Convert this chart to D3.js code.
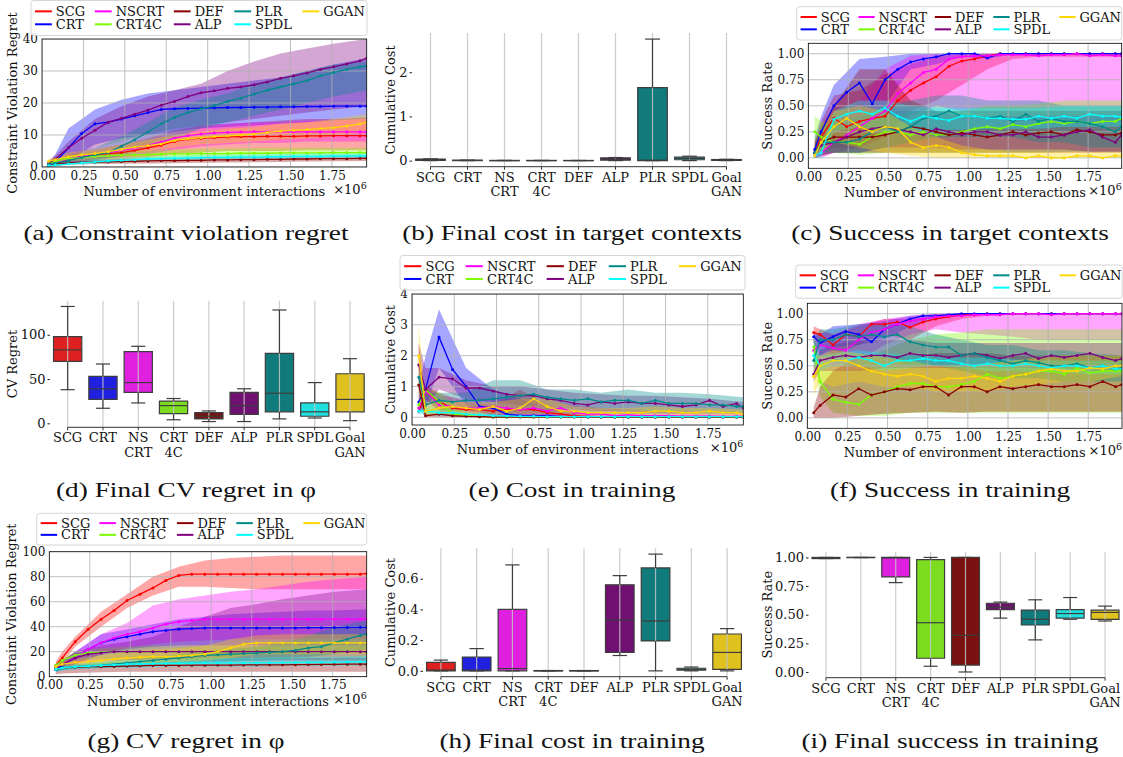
<!DOCTYPE html>
<html>
<head>
<meta charset="UTF-8">
<title>Curriculum results</title>
<script src="https://d3js.org/d3.v7.min.js"></script>
<style>
  body { margin: 0; background: #fff; }
</style>
</head>
<body>
<div id="chart"></div>
<script>
// ---------- data ----------
const methods = ["SCG", "CRT", "NSCRT", "CRT4C", "DEF", "ALP", "PLR", "SPDL", "GGAN"];
const boxLabels = [["SCG"], ["CRT"], ["NS", "CRT"], ["CRT", "4C"], ["DEF"], ["ALP"], ["PLR"], ["SPDL"], ["Goal", "GAN"]];
const colors = {SCG: "#ff0000", CRT: "#0000ff", NSCRT: "#ff00ff", CRT4C: "#7cfc00", DEF: "#8b0000",
                ALP: "#800080", PLR: "#008b8b", SPDL: "#00ffff", GGAN: "#ffd700"};

// x positions (in 1e6 interactions) of the mean curves and of the band edges
const steps = [0.04,0.08,0.16,0.24,0.32,0.40,0.48,0.56,0.64,0.72,0.80,0.88,0.96,1.04,1.12,1.20,1.28,1.36,1.44,1.52,1.60,1.68,1.76,1.84,1.92,1.96];
const bandSteps = [0.04,0.08,0.16,0.32,0.48,0.64,0.80,0.96,1.12,1.28,1.44,1.60,1.76,1.96];
const xTicks = [0, 0.25, 0.5, 0.75, 1.0, 1.25, 1.5, 1.75];

// (a) constraint violation regret, target contexts
const aMean = {
  SCG:   [0.3,1,2.3,3.3,3.8,4.2,4.5,5.2,6,6.8,8,8.7,9,9.2,9.4,9.5,9.5,9.6,9.6,9.6,9.7,9.7,9.8,9.8,9.8,9.8],
  CRT:   [0.5,1.5,6,10.5,13.5,14,15,16,17,18,18.2,18.3,18.4,18.5,18.6,18.6,18.7,18.7,18.8,18.8,18.9,18.9,19,19,19,19],
  NSCRT: [0.4,1.2,2.5,3.4,4,4.5,5.2,5.8,6.8,7.8,9,9.8,10.3,10.6,10.8,10.9,11,11,11,11,11,11,11,11,11,11],
  CRT4C: [1,1.8,2.6,3,3.3,3.5,3.7,3.8,3.9,4,4.1,4.1,4.2,4.2,4.2,4.3,4.3,4.3,4.4,4.4,4.4,4.4,4.5,4.5,4.5,4.5],
  DEF:   [0.4,0.8,1.3,1.5,1.5,1.6,1.7,1.8,1.9,2,2,2.1,2.1,2.2,2.2,2.3,2.3,2.4,2.4,2.5,2.5,2.6,2.6,2.6,2.7,2.7],
  ALP:   [1.2,2.5,6,9,11.5,14,15.2,16.5,17.8,19.3,20.5,22,23.2,23.8,24.6,25,25.7,26.6,27.7,28.5,29.4,30.5,31.3,32.2,33.2,34],
  PLR:   [0.8,1.2,2,3,3.8,4.5,6.5,8.5,11,13.5,15.5,17,18.2,19.2,20.5,21.5,22.8,24,25,26,27,28.5,29.5,30.5,31.3,31.6],
  SPDL:  [0.4,0.6,1,1.3,1.6,1.9,2.1,2.3,2.5,2.6,2.7,2.8,2.9,3,3,3.1,3.1,3.2,3.2,3.3,3.3,3.3,3.4,3.4,3.5,3.5],
  GGAN:  [1.8,2.3,3.2,3.8,4.2,4.8,5.5,6.2,6.7,7.2,8.3,8.8,9.2,9.5,9.7,10,10.3,10.8,11.2,11.5,11.7,12,12.3,12.8,13.5,14]
};
const aLo = {
  SCG: [0.1,0.3,1,1.8,2.2,3,4,4.5,5,5,5,5.2,5.2,5.2], CRT: [0.2,0.5,2,7,9,10,11,12,12.5,13,13.5,14,14.5,15],
  NSCRT: [0.2,0.5,1,2.5,3,4,5.5,6.5,7,7.5,7.5,8,8,8], CRT4C: [0.6,1.1,1.8,2.2,2.5,2.7,2.8,2.9,3,3,3.1,3.1,3.2,3.2],
  DEF: [0.1,0.3,0.7,0.9,1,1.1,1.2,1.3,1.4,1.5,1.6,1.7,1.8,1.9], ALP: [0.5,1,3,6,8,10,12,13,14,15,16,17,18,19],
  PLR: [0.5,0.8,1,2,3.5,6,9,12,14,16,18,20,22,24], SPDL: [0.2,0.3,0.6,1,1.4,1.8,2,2.1,2.2,2.3,2.4,2.5,2.6,2.6],
  GGAN: [1.2,1.6,2,3,4,5,6,7,7.5,8,8.5,9,9.5,11]
};
const aHi = {
  SCG: [0.8,1.8,3.5,5.5,7,9,11.5,13,13.5,14,14.5,15,15,15.5], CRT: [1.5,4,12,18,21,23,24,25,26,27,28,30,32,34],
  NSCRT: [0.8,2,4,6,8,10,12,13,13.5,14,14,14.5,14.5,15], CRT4C: [1.5,2.5,3.5,4.5,5,5.2,5.5,5.7,5.8,5.9,6,6,6,6],
  DEF: [0.8,1.3,1.8,2.2,2.4,2.6,2.8,3,3.1,3.2,3.3,3.4,3.5,3.6], ALP: [2,3.5,8,15,19,22,24,26,30,33,35.5,37,38.5,40],
  PLR: [1.2,2,3.5,6,9.5,14,18.5,21,23,26,28,30,32,33], SPDL: [0.7,1,1.5,2.3,2.8,3.2,3.5,3.7,3.9,4,4.1,4.2,4.3,4.4],
  GGAN: [2.5,3,4.5,5.5,7,8.5,10,11,12,12.5,13.5,14,15,16.5]
};

// (c) success rate, target contexts
const cMean = {
  SCG:   [0.05,0.2,0.38,0.3,0.35,0.38,0.4,0.55,0.65,0.72,0.78,0.88,0.93,0.95,0.98,1,1,1,1,1,1,1,1,1,1,1],
  CRT:   [0.08,0.25,0.5,0.63,0.72,0.52,0.75,0.85,0.92,0.95,0.97,1,1,1,0.96,1,1,1,1,1,1,1,1,1,1,1],
  NSCRT: [0.02,0.05,0.15,0.22,0.3,0.38,0.45,0.62,0.72,0.82,0.85,0.95,0.97,0.98,0.98,0.99,0.99,0.99,0.98,0.99,0.99,1,0.98,0.99,0.98,0.98],
  CRT4C: [0.25,0.2,0.15,0.15,0.13,0.2,0.25,0.25,0.22,0.25,0.22,0.22,0.25,0.28,0.3,0.28,0.32,0.3,0.33,0.35,0.33,0.35,0.33,0.35,0.35,0.38],
  DEF:   [0.05,0.15,0.2,0.2,0.2,0.2,0.22,0.25,0.3,0.28,0.25,0.22,0.24,0.22,0.2,0.22,0.25,0.22,0.24,0.25,0.22,0.27,0.25,0.22,0.22,0.24],
  ALP:   [0.05,0.12,0.15,0.2,0.25,0.28,0.3,0.27,0.25,0.22,0.28,0.25,0.22,0.25,0.25,0.22,0.22,0.25,0.2,0.2,0.22,0.25,0.27,0.2,0.15,0.22],
  PLR:   [0.05,0.15,0.15,0.15,0.18,0.25,0.3,0.25,0.3,0.38,0.4,0.45,0.4,0.4,0.38,0.4,0.35,0.42,0.35,0.38,0.35,0.35,0.33,0.3,0.25,0.3],
  SPDL:  [0.02,0.05,0.37,0.42,0.45,0.42,0.48,0.4,0.35,0.4,0.38,0.36,0.4,0.4,0.38,0.38,0.37,0.37,0.4,0.38,0.4,0.38,0.42,0.4,0.4,0.39],
  GGAN:  [0.02,0.15,0.3,0.38,0.3,0.25,0.3,0.28,0.15,0.1,0.12,0.1,0.05,0.03,0.02,0.02,0.02,0,0.02,0,0,0.02,0.02,0,0.02,0.02]
};
const cLo = {
  SCG: [0,0.05,0.1,0.1,0.2,0.45,0.55,0.7,0.85,0.95,0.97,0.97,0.97,0.97], CRT: [0,0.05,0.3,0.35,0.5,0.85,0.9,0.97,0.95,1,1,1,1,1],
  NSCRT: [0,0,0.05,0.1,0.2,0.4,0.5,0.45,0.4,0.35,0.35,0.35,0.35,0.35], CRT4C: [0.1,0.08,0.05,0.03,0.05,0.05,0.05,0.05,0.05,0.05,0.05,0.06,0.06,0.06],
  DEF: [0,0.02,0.05,0.05,0.05,0.05,0.05,0.05,0.05,0.05,0.05,0.05,0.05,0.05], ALP: [0,0.02,0.05,0.05,0.1,0.1,0.1,0.08,0.08,0.08,0.08,0.08,0.06,0.06],
  PLR: [0,0.05,0.05,0.05,0.1,0.15,0.2,0.2,0.2,0.2,0.15,0.15,0.1,0.1], SPDL: [0,0,0.25,0.3,0.25,0.25,0.27,0.27,0.28,0.28,0.28,0.3,0.3,0.3],
  GGAN: [0,0.05,0.15,0.1,0.05,0.02,0,0,0,0,0,0,0,0]
};
const cHi = {
  SCG: [0.15,0.35,0.6,0.65,0.8,0.9,0.97,1,1,1,1,1,1,1], CRT: [0.2,0.4,0.7,0.95,0.97,1,1,1,1,1,1,1,1,1],
  NSCRT: [0.05,0.15,0.3,0.55,0.85,0.98,1,1,1,1,1,1,1,1], CRT4C: [0.4,0.35,0.3,0.3,0.4,0.45,0.45,0.45,0.5,0.5,0.52,0.55,0.55,0.55],
  DEF: [0.15,0.3,0.5,0.85,0.85,0.55,0.45,0.45,0.45,0.45,0.45,0.45,0.45,0.45], ALP: [0.1,0.25,0.3,0.4,0.45,0.45,0.45,0.4,0.4,0.4,0.4,0.4,0.4,0.4],
  PLR: [0.1,0.3,0.35,0.4,0.5,0.55,0.6,0.6,0.55,0.55,0.55,0.5,0.5,0.5], SPDL: [0.05,0.1,0.45,0.55,0.55,0.5,0.48,0.48,0.48,0.48,0.48,0.5,0.5,0.5],
  GGAN: [0.05,0.3,0.45,0.5,0.45,0.3,0.2,0.12,0.08,0.06,0.06,0.06,0.06,0.06]
};

// (e) cost in training
const eMean = {
  SCG:   [0.2,0.85,0.5,0.3,0.25,0.25,0.2,0.25,0.25,0.25,0.15,0.1,0.05,0.02,0.01,0.01,0.01,0.01,0.01,0.01,0.01,0.01,0.01,0.01,0.01,0.01],
  CRT:   [0.5,0.9,2.6,1.55,1.0,0.35,0.3,0.1,0.05,0.05,0.05,0.02,0.02,0.01,0.01,0.01,0.01,0.01,0.01,0.01,0.01,0.01,0.01,0.01,0.01,0.01],
  NSCRT: [0.3,0.85,0.4,0.35,0.3,0.3,0.35,0.3,0.25,0.3,0.2,0.3,0.15,0.1,0.1,0.05,0.08,0.05,0.05,0.05,0.04,0.04,0.04,0.03,0.03,0.03],
  CRT4C: [0.4,0.9,0.5,0.1,0.05,0.02,0.01,0.01,0.01,0.01,0.01,0.01,0.01,0.01,0.01,0.01,0.01,0.01,0.01,0.01,0.01,0.01,0.01,0.01,0.01,0.01],
  DEF:   [1.05,0.05,0.1,0.05,0.03,0.02,0.01,0.01,0.01,0.01,0.01,0.01,0.01,0.01,0.01,0.01,0.01,0.01,0.01,0.01,0.01,0.01,0.01,0.01,0.01,0.01],
  ALP:   [1.7,0.9,1.3,1.25,0.95,0.95,0.85,0.75,0.7,0.7,0.6,0.55,0.45,0.4,0.5,0.45,0.5,0.45,0.45,0.4,0.35,0.4,0.55,0.35,0.45,0.3],
  PLR:   [1.3,0.4,0.55,0.5,0.55,0.55,0.6,0.65,0.7,0.75,0.65,0.6,0.55,0.6,0.5,0.55,0.55,0.45,0.55,0.45,0.45,0.45,0.4,0.4,0.35,0.35],
  SPDL:  [0.2,0.2,0.15,0.15,0.1,0.08,0.05,0.04,0.03,0.03,0.02,0.02,0.02,0.02,0.02,0.02,0.02,0.02,0.02,0.02,0.02,0.02,0.02,0.02,0.02,0.02],
  GGAN:  [2.0,0.2,0.3,0.35,0.3,0.25,0.35,0.2,0.3,0.6,0.35,0.2,0.2,0.15,0.15,0.15,0.15,0.15,0.2,0.2,0.15,0.15,0.2,0.15,0.15,0.1]
};
const eLo = {
  SCG: [0.1,0.6,0.2,0.1,0.05,0.05,0.02,0,0,0,0,0,0,0], CRT: [0.2,0.3,1.6,0.4,0,0,0,0,0,0,0,0,0,0],
  NSCRT: [0.1,0.6,0.2,0.1,0.1,0.05,0.02,0,0,0,0,0,0,0], CRT4C: [0.2,0.7,0.25,0,0,0,0,0,0,0,0,0,0,0],
  DEF: [0.3,0,0,0,0,0,0,0,0,0,0,0,0,0], ALP: [1.0,0.3,0.9,0.6,0.5,0.4,0.35,0.25,0.2,0.2,0.15,0.15,0.15,0.15],
  PLR: [1.0,0.1,0.2,0.2,0.1,0.1,0.1,0.1,0.1,0.1,0.1,0.1,0.1,0.1], SPDL: [0.1,0.1,0.05,0,0,0,0,0,0,0,0,0,0,0],
  GGAN: [0.8,0.05,0.1,0.1,0.1,0.1,0.1,0.05,0.05,0.05,0.05,0.05,0.05,0.05]
};
const eHi = {
  SCG: [0.4,1.0,0.8,0.5,0.4,0.9,0.4,0.15,0.05,0.03,0.03,0.03,0.03,0.03], CRT: [1.0,2.0,3.5,1.6,0.9,0.6,0.3,0.1,0.05,0.05,0.05,0.05,0.05,0.05],
  NSCRT: [0.5,1.0,0.7,0.6,0.6,0.6,0.6,0.4,0.3,0.25,0.2,0.2,0.15,0.15], CRT4C: [0.6,1.0,0.8,0.15,0.05,0.03,0.02,0.02,0.02,0.02,0.02,0.02,0.02,0.02],
  DEF: [2.4,0.1,0.2,0.08,0.05,0.03,0.02,0.02,0.02,0.02,0.02,0.02,0.02,0.02], ALP: [2.4,1.6,1.6,1.2,1.0,1.0,0.9,0.8,0.75,0.7,0.7,0.65,0.6,0.5],
  PLR: [1.5,0.8,0.8,0.8,1.2,1.2,0.9,0.9,0.8,0.9,0.8,0.8,0.75,0.65], SPDL: [0.3,0.3,0.25,0.2,0.1,0.05,0.05,0.04,0.04,0.04,0.04,0.04,0.04,0.04],
  GGAN: [3.0,0.5,0.5,0.5,0.5,0.6,0.6,0.35,0.3,0.3,0.35,0.3,0.3,0.25]
};

// (f) success rate in training
const fMean = {
  SCG:   [0.82,0.8,0.7,0.8,0.78,0.9,0.9,0.92,0.87,0.92,0.95,0.97,0.99,0.99,1,1,1,1,1,1,1,1,1,1,1,1],
  CRT:   [0.78,0.72,0.78,0.83,0.8,0.73,0.85,0.9,0.95,0.98,0.98,0.99,1,1,1,1,1,1,1,1,1,1,1,1,1,1],
  NSCRT: [0.65,0.7,0.67,0.65,0.75,0.82,0.85,0.9,0.93,0.95,0.97,0.98,0.98,0.99,0.99,0.99,1,1,1,0.99,1,1,1,1,1,1],
  CRT4C: [0.68,0.35,0.18,0.15,0.13,0.22,0.25,0.3,0.33,0.33,0.3,0.3,0.32,0.35,0.42,0.38,0.4,0.42,0.45,0.45,0.42,0.48,0.43,0.45,0.45,0.45],
  DEF:   [0.05,0.12,0.22,0.2,0.28,0.22,0.25,0.28,0.27,0.3,0.3,0.22,0.3,0.3,0.25,0.3,0.28,0.3,0.32,0.3,0.3,0.32,0.3,0.35,0.3,0.32],
  ALP:   [0.42,0.55,0.58,0.6,0.58,0.6,0.6,0.58,0.62,0.6,0.6,0.58,0.6,0.62,0.6,0.57,0.6,0.62,0.57,0.6,0.58,0.6,0.62,0.58,0.55,0.57],
  PLR:   [0.55,0.75,0.75,0.8,0.78,0.8,0.78,0.8,0.73,0.7,0.68,0.68,0.6,0.62,0.58,0.55,0.52,0.55,0.53,0.5,0.5,0.52,0.48,0.5,0.47,0.48],
  SPDL:  [0.6,0.5,0.55,0.55,0.58,0.55,0.5,0.55,0.55,0.57,0.55,0.55,0.52,0.5,0.52,0.5,0.5,0.52,0.5,0.48,0.5,0.5,0.48,0.5,0.47,0.47],
  GGAN:  [0.4,0.5,0.55,0.55,0.5,0.45,0.42,0.4,0.42,0.4,0.35,0.38,0.38,0.4,0.38,0.35,0.4,0.42,0.45,0.47,0.45,0.45,0.48,0.47,0.5,0.5]
};
const fLo = {
  SCG: [0.75,0.72,0.6,0.7,0.8,0.75,0.88,0.95,0.98,0.99,0.99,0.99,0.99,0.99], CRT: [0.72,0.6,0.68,0.7,0.75,0.88,0.95,0.99,1,1,1,1,1,1],
  NSCRT: [0.55,0.55,0.5,0.55,0.7,0.8,0.85,0.82,0.8,0.78,0.75,0.75,0.75,0.75], CRT4C: [0.55,0.2,0.05,0.02,0.02,0.05,0.05,0.05,0.05,0.05,0.05,0.05,0.05,0.05],
  DEF: [0,0,0,0.02,0.04,0.05,0.06,0.05,0.06,0.06,0.06,0.06,0.06,0.06], ALP: [0.35,0.45,0.45,0.45,0.48,0.48,0.48,0.48,0.48,0.48,0.48,0.48,0.45,0.45],
  PLR: [0.4,0.6,0.55,0.6,0.6,0.5,0.5,0.45,0.4,0.38,0.38,0.35,0.35,0.35], SPDL: [0.5,0.45,0.5,0.5,0.45,0.48,0.5,0.48,0.45,0.45,0.44,0.44,0.42,0.42],
  GGAN: [0.22,0.35,0.3,0.35,0.3,0.3,0.25,0.25,0.25,0.3,0.32,0.35,0.35,0.4]
};
const fHi = {
  SCG: [0.88,0.85,0.8,0.88,0.95,0.95,0.98,1,1,1,1,1,1,1], CRT: [0.82,0.8,0.88,0.9,0.93,0.98,1,1,1,1,1,1,1,1],
  NSCRT: [0.75,0.82,0.8,0.9,0.95,0.98,1,1,1,1,1,1,1,1], CRT4C: [0.8,0.55,0.5,0.55,0.65,0.75,0.8,0.82,0.85,0.85,0.85,0.85,0.85,0.85],
  DEF: [0.1,0.3,0.45,0.6,0.6,0.6,0.62,0.62,0.62,0.6,0.6,0.6,0.6,0.6], ALP: [0.5,0.65,0.7,0.75,0.75,0.75,0.72,0.72,0.72,0.72,0.72,0.72,0.72,0.72],
  PLR: [0.75,0.85,0.85,0.9,0.9,0.88,0.8,0.75,0.7,0.7,0.65,0.65,0.62,0.6], SPDL: [0.65,0.6,0.62,0.65,0.62,0.6,0.6,0.58,0.58,0.56,0.55,0.55,0.55,0.55],
  GGAN: [0.6,0.6,0.65,0.62,0.58,0.55,0.5,0.5,0.52,0.55,0.58,0.6,0.6,0.6]
};

// (g) CV regret in phi
const gMean = {
  SCG:   [9,15,28,38,46,53,61,66,71,77,81,82,82,82,82,82,82,82,82,82,82,82,82,82,82,82.5],
  CRT:   [6,9,15,22,27,30,32,34,36,37,38,38.5,39,39,39,39,39,39,39,39,39.2,39.2,39.3,39.4,39.5,39.5],
  NSCRT: [7,10,15,22,27,31,34,36,39,42,44,45,46,46,46,46,46,46,46,46,46,46,46,46,46,46],
  CRT4C: [9,13,17,19,19.5,20,20,20,20,20,20,20,20,20,20,20,20,20,20,20,20,20,20,20,20,20],
  DEF:   [6,7,7.5,8,8,8.2,8.5,8.7,9,9,9,9.2,9.2,9.3,9.3,9.4,9.5,9.5,9.5,9.6,9.7,9.8,9.9,10,10,10],
  ALP:   [7,10,15,18,19,20,20,20,20,20,20,20,20,20,20,20,20,20,20,20,20,20,20,20,20,20],
  PLR:   [6,7,8,8.5,9,10,11,12,13,14,15,16,17,17.5,18,18.5,19,19.5,20,21,23,24,27,30,33,34],
  SPDL:  [6,7,8,8.5,9,9.5,10,10.2,10.5,10.6,10.7,10.8,10.9,11,11,11,11,11.2,11.3,11.4,11.5,11.6,11.7,11.8,12,12],
  GGAN:  [8,10,11.5,12,13,14,15,15.5,16,16,16.5,17,18,20,23,26,27,27,27,27,27,27,27,27,27,27]
};
const gLo = {
  SCG: [6,11,24,40,55,65,72,72,71,70,70,70,70,70], CRT: [4,6,10,18,22,24,25,25,25,25,25,25,25,25],
  NSCRT: [5,7,10,18,23,26,28,29,30,30,30,30,30,30], CRT4C: [7,10,13,14,14,14,14,14,14,14,14,14,14,14],
  DEF: [2,2.5,3,3.5,4,4,4,4,4,4,4,4,4,4], ALP: [5,7,10,12,13,13,13,13,13,13,13,13,13,13],
  PLR: [4,5,6,7,8,9,10,11,12,13,14,16,18,22], SPDL: [4,5,6,7,7,7.5,8,8,8,8,8.5,8.5,8.5,9],
  GGAN: [6,8,9,10,11,11,12,13,15,18,18,18,18,18]
};
const gHi = {
  SCG: [12,20,32,52,66,80,88,93,95,96,97,97,97,97], CRT: [8,12,20,34,38,42,46,48,50,51,52,53,53,54],
  NSCRT: [9,13,20,34,43,57,62,65,68,70,73,76,78,80], CRT4C: [11,15,20,23,24,25,25,25,25,25,25,25,25,25],
  DEF: [8,9,10,11,12,12.5,13,13.5,14,14,14.5,15,15,15], ALP: [9,13,20,25,28,32,40,48,55,58,62,65,68,70],
  PLR: [8,9,10,12,14,16,18,20,22,24,27,33,40,45], SPDL: [8,9,10,12,13,14,14,15,15,15,15.5,16,16,16.5],
  GGAN: [10,12,14,17,20,22,23,25,30,33,34,34,34,34]
};

// box plots: [whisker low, q1, median, q3, whisker high] per method
const boxB = [[0,0.005,0.02,0.035,0.04],[0,0,0.005,0.01,0.012],[0,0,0,0.005,0.006],[0,0,0,0.005,0.006],[0,0,0,0.004,0.005],
              [0,0.01,0.03,0.06,0.07],[0,0,0.01,1.65,2.75],[0,0.02,0.05,0.08,0.1],[0,0.005,0.015,0.025,0.03]];
const boxD = [[38,70,83,98,132],[17,27,39,53,67],[23,35,46,81,87],[4,11,20,25,28],[2,5,8,12,14],
              [2,10,20,35,39],[5,13,34,79,128],[6,8,13,23,46],[3,13,27,56,73]];
const boxH = [[0,0,0.005,0.055,0.07],[0,0,0.005,0.09,0.145],[0,0,0.015,0.40,0.69],[0,0,0,0.002,0.002],[0,0,0,0.002,0.002],
              [0.10,0.12,0.33,0.56,0.62],[0,0.195,0.325,0.67,0.76],[0,0.005,0.01,0.017,0.025],[0,0.01,0.12,0.24,0.275]];
const boxI = [[0.99,0.99,0.995,1.0,1.0],[0.998,0.998,1.0,1.0,1.0],[0.78,0.83,0.995,1.0,1.0],[0.05,0.12,0.43,0.98,1.0],[0.0,0.06,0.32,1.0,1.0],
              [0.47,0.545,0.565,0.60,0.61],[0.28,0.41,0.46,0.54,0.63],[0.46,0.47,0.51,0.545,0.65],[0.445,0.46,0.52,0.54,0.575]];

const captions = ["(a) Constraint violation regret", "(b) Final cost in target contexts", "(c) Success in target contexts",
                  "(d) Final CV regret in \u03c6", "(e) Cost in training", "(f) Success in training",
                  "(g) CV regret in \u03c6", "(h) Final cost in training", "(i) Final success in training"];

// ---------- drawing ----------
const TICK = 12, LABEL = 13;
const svg = d3.select("#chart").append("svg")
    .attr("width", 1123).attr("height", 757)
    .style("font-family", "'DejaVu Serif', serif");

function styleAxis(ax) {
  ax.attr("font-family", null).attr("font-size", TICK);
  ax.select(".domain").remove();
  ax.selectAll("text").attr("fill", "#111");
  ax.selectAll("line").attr("stroke", "#222");
}

function drawLegend(L) {
  const g = svg.append("g");
  g.append("rect").attr("x", L.x).attr("y", L.y).attr("width", L.w).attr("height", L.h).attr("rx", 3)
    .attr("fill", "#fff").attr("fill-opacity", 0.85).attr("stroke", "#cccccc").attr("stroke-width", 0.8);
  const colFrac = [0.012, 0.19, 0.425, 0.605, 0.808];
  methods.forEach((m, i) => {
    const cx = L.x + colFrac[Math.floor(i / 2)] * L.w;
    const cy = L.y + L.h * (i % 2 ? 0.68 : 0.31);
    g.append("line").attr("x1", cx).attr("x2", cx + L.w * 0.05).attr("y1", cy).attr("y2", cy)
      .attr("stroke", colors[m]).attr("stroke-width", 2);
    g.append("text").attr("x", cx + L.w * 0.062).attr("y", cy).attr("dy", "0.35em")
      .attr("font-size", LABEL).attr("fill", "#111").text(m);
  });
}

function yLabel(text, x, yc) {
  svg.append("text").attr("transform", `translate(${x},${yc}) rotate(-90)`)
    .attr("text-anchor", "middle").attr("dy", "0.35em").attr("font-size", LABEL).attr("fill", "#111").text(text);
}

function linePanel(p) {
  const x = d3.scaleLinear().domain([0, 1.96]).range([p.left, p.right]);
  const y = d3.scaleLinear().domain(p.yDomain).range([p.bottom, p.top]);
  const clip = "clip-" + p.id;
  svg.append("clipPath").attr("id", clip).append("rect")
    .attr("x", p.left).attr("y", p.top).attr("width", p.right - p.left).attr("height", p.bottom - p.top);
  const plot = svg.append("g").attr("clip-path", `url(#${clip})`);

  // shaded spread of every method
  const area = d3.area().x((d, i) => x(bandSteps[i])).y0(d => y(d[0])).y1(d => y(d[1]));
  methods.forEach(m => {
    plot.append("path").attr("d", area(p.lo[m].map((v, i) => [v, p.hi[m][i]])))
      .attr("fill", colors[m]).attr("fill-opacity", 0.35);
  });

  plot.selectAll(null).data(xTicks).join("line")
    .attr("x1", d => x(d)).attr("x2", d => x(d)).attr("y1", p.top).attr("y2", p.bottom)
    .attr("stroke", "#b0b0b0").attr("stroke-width", 0.8);
  plot.selectAll(null).data(p.yTicks).join("line")
    .attr("x1", p.left).attr("x2", p.right).attr("y1", d => y(d)).attr("y2", d => y(d))
    .attr("stroke", "#b0b0b0").attr("stroke-width", 0.8);

  // mean curves with point markers
  const line = d3.line().x((d, i) => x(steps[i])).y(d => y(d));
  methods.forEach(m => {
    plot.append("path").attr("d", line(p.mean[m])).attr("fill", "none")
      .attr("stroke", colors[m]).attr("stroke-width", 1.3);
    plot.append("g").selectAll("circle").data(p.mean[m]).join("circle")
      .attr("cx", (d, i) => x(steps[i])).attr("cy", d => y(d)).attr("r", 1.5).attr("fill", colors[m]);
  });

  svg.append("rect").attr("x", p.left).attr("y", p.top).attr("width", p.right - p.left).attr("height", p.bottom - p.top)
    .attr("fill", "none").attr("stroke", "#000").attr("stroke-width", 0.8);

  const ax = svg.append("g").attr("transform", `translate(0,${p.bottom})`)
    .call(d3.axisBottom(x).tickValues(xTicks).tickFormat(d3.format(".2f")).tickSize(0).tickPadding(4));
  styleAxis(ax);
  const ay = svg.append("g").attr("transform", `translate(${p.left},0)`)
    .call(d3.axisLeft(y).tickValues(p.yTicks).tickFormat(d3.format(p.yFmt)).tickSize(0).tickPadding(4));
  styleAxis(ay);

  svg.append("text").attr("x", (p.left + p.right) / 2).attr("y", p.bottom + 29).attr("text-anchor", "middle")
    .attr("font-size", LABEL).attr("fill", "#111").text("Number of environment interactions");
  const mult = svg.append("text").attr("x", p.right).attr("y", p.bottom + 27).attr("text-anchor", "end")
    .attr("font-size", LABEL).attr("fill", "#111");
  mult.append("tspan").text("\u00d710");
  mult.append("tspan").attr("dy", -5).attr("font-size", 9.5).text("6");
  yLabel(p.ylabel, p.ylabelX, (p.top + p.bottom) / 2);
  drawLegend(p.legend);
}

function boxPanel(p) {
  const x = d3.scalePoint().domain(methods).range([p.left, p.right]).padding(0.5);
  const y = d3.scaleLinear().domain(p.yDomain).range([p.bottom, p.top]);
  const bw = x.step() * 0.8;
  const edge = "#3d3d3d";
  const g = svg.append("g");

  methods.forEach((m, i) => {
    const [, q1, , q3] = p.stats[i];
    const c = d3.hsl(colors[m]); c.s *= 0.75;
    const x0 = x(m) - bw / 2, x1 = x(m) + bw / 2;
    g.append("path").attr("d", `M${x0},${y(q1)}H${x1}V${y(q3)}H${x0}Z`)
      .attr("fill", c.formatHex()).attr("stroke", edge).attr("stroke-width", 1.2);
  });

  g.selectAll(null).data(methods).join("line")
    .attr("x1", d => x(d)).attr("x2", d => x(d)).attr("y1", p.top).attr("y2", p.bottom)
    .attr("stroke", "#c4c4c4").attr("stroke-opacity", 0.85).attr("stroke-width", 1.2);

  methods.forEach((m, i) => {
    const [lo, q1, med, q3, hi] = p.stats[i];
    const cx = x(m), cw = bw / 4;
    const seg = (xa, ya, xb, yb) => g.append("line").attr("x1", xa).attr("y1", ya).attr("x2", xb).attr("y2", yb)
      .attr("stroke", edge).attr("stroke-width", 1.2);
    seg(cx, y(lo), cx, y(q1));
    seg(cx, y(q3), cx, y(hi));
    seg(cx - cw, y(lo), cx + cw, y(lo));
    seg(cx - cw, y(hi), cx + cw, y(hi));
    seg(cx - bw / 2, y(med), cx + bw / 2, y(med));
  });

  g.append("line").attr("x1", x(methods[0])).attr("x2", x(methods[methods.length - 1]))
    .attr("y1", p.bottom).attr("y2", p.bottom).attr("stroke", "#333").attr("stroke-width", 1);
  g.selectAll(null).data(methods).join("line")
    .attr("x1", d => x(d)).attr("x2", d => x(d)).attr("y1", p.bottom).attr("y2", p.bottom + 3)
    .attr("stroke", "#333");

  methods.forEach((m, i) => {
    const t = g.append("text").attr("x", x(m)).attr("y", p.bottom + 15).attr("text-anchor", "middle")
      .attr("font-size", LABEL).attr("fill", "#111");
    boxLabels[i].forEach((s, k) => t.append("tspan").attr("x", x(m)).attr("dy", k ? 14.5 : 0).text(s));
  });

  const ay = svg.append("g").attr("transform", `translate(${p.left},0)`)
    .call(d3.axisLeft(y).tickValues(p.yTicks).tickFormat(d3.format(p.yFmt)).tickSize(2.5).tickPadding(2));
  styleAxis(ay);
  ay.attr("font-size", LABEL);
  yLabel(p.ylabel, p.ylabelX, (p.top + p.bottom) / 2);
}

const rateTicks = [0, 0.25, 0.5, 0.75, 1.0];

linePanel({id: "a", left: 42, right: 366.7, top: 39, bottom: 167, yDomain: [0, 40], yTicks: [0, 10, 20, 30, 40], yFmt: "d",
  ylabel: "Constraint Violation Regret", ylabelX: 12, mean: aMean, lo: aLo, hi: aHi,
  legend: {x: 31, y: 0.5, w: 336, h: 35}});
boxPanel({left: 412, right: 745, top: 33, bottom: 166.7, yDomain: [-0.1375, 2.8875], yTicks: [0, 1, 2], yFmt: "d",
  ylabel: "Cumulative Cost", ylabelX: 390, stats: boxB});
linePanel({id: "c", left: 808.3, right: 1121.7, top: 43.3, bottom: 168.3, yDomain: [-0.1, 1.1], yTicks: rateTicks, yFmt: ".2f",
  ylabel: "Success Rate", ylabelX: 767, mean: cMean, lo: cLo, hi: cHi,
  legend: {x: 796.7, y: 6.7, w: 325, h: 33.3}});

boxPanel({left: 50, right: 367.7, top: 300.7, bottom: 427.3, yDomain: [-4.5, 138.5], yTicks: [0, 50, 100], yFmt: "d",
  ylabel: "CV Regret", ylabelX: 12, stats: boxD});
linePanel({id: "e", left: 412, right: 743.3, top: 294, bottom: 425, yDomain: [-0.25, 4], yTicks: [0, 1, 2, 3, 4], yFmt: "d",
  ylabel: "Cumulative Cost", ylabelX: 390, mean: eMean, lo: eLo, hi: eHi,
  legend: {x: 400, y: 255.5, w: 345, h: 34.5}});
linePanel({id: "f", left: 807.3, right: 1122, top: 303.3, bottom: 428.3, yDomain: [-0.1, 1.1], yTicks: rateTicks, yFmt: ".2f",
  ylabel: "Success Rate", ylabelX: 767, mean: fMean, lo: fLo, hi: fHi,
  legend: {x: 795.7, y: 265, w: 326.5, h: 33.3}});

linePanel({id: "g", left: 49.3, right: 366.7, top: 551.7, bottom: 676.7, yDomain: [0, 100], yTicks: [0, 20, 40, 60, 80, 100], yFmt: "d",
  ylabel: "Constraint Violation Regret", ylabelX: 11.7, mean: gMean, lo: gLo, hi: gHi,
  legend: {x: 36.7, y: 513.3, w: 330, h: 31.7}});
boxPanel({left: 423, right: 745, top: 548.3, bottom: 676.7, yDomain: [-0.038, 0.798], yTicks: [0, 0.2, 0.4, 0.6], yFmt: ".1f",
  ylabel: "Cumulative Cost", ylabelX: 390, stats: boxH});
boxPanel({left: 808.5, right: 1122.5, top: 551.7, bottom: 677.7, yDomain: [-0.05, 1.05], yTicks: rateTicks, yFmt: ".2f",
  ylabel: "Success Rate", ylabelX: 767, stats: boxI});

// sub-figure captions (LaTeX-like: light and wide)
const capX = [186, 572, 950], capY = [240, 497, 748];
captions.forEach((c, i) => {
  const t = svg.append("text").attr("x", capX[i % 3]).attr("y", capY[Math.floor(i / 3)]).attr("text-anchor", "middle")
    .attr("font-family", "'Liberation Serif', serif").attr("font-size", 22).attr("fill", "#111").text(c);
  const w = t.node().getComputedTextLength();
  t.attr("textLength", w * 1.24).attr("lengthAdjust", "spacingAndGlyphs");
});
</script>
</body>
</html>
